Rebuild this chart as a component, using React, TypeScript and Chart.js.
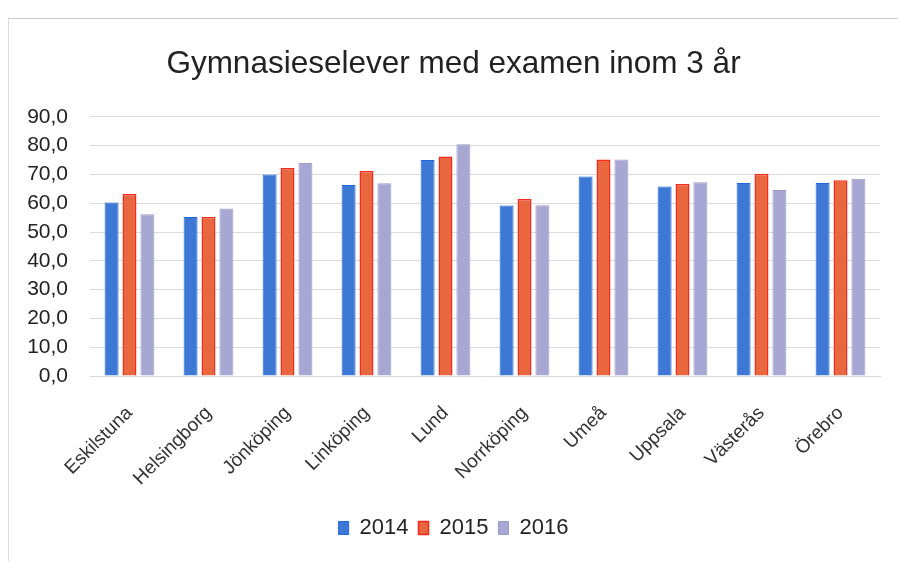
import React, { useEffect, useRef } from "react";
import { Chart, registerables } from "chart.js";

Chart.register(...registerables);

const categories = ["Eskilstuna", "Helsingborg", "Jönköping", "Linköping", "Lund", "Norrköping", "Umeå", "Uppsala", "Västerås", "Örebro"];
const values2014 = [60.2, 55.2, 70.0, 66.3, 75.0, 59.2, 69.3, 65.8, 67.0, 67.0];
const values2015 = [63.2, 55.2, 72.2, 71.2, 76.2, 61.5, 75.2, 66.7, 70.2, 68.0];
const values2016 = [56.2, 58.2, 74.0, 66.9, 80.5, 59.3, 75.2, 67.3, 64.6, 68.5];
const seriesLabels = ["2014", "2015", "2016"];
const titleText = "Gymnasieselever med examen inom 3 år";

export default function App() {
  const ref = useRef<HTMLCanvasElement>(null);
  useEffect(() => {
    const font = "'Liberation Sans', 'Open Sans', sans-serif";
    const chart = new Chart(ref.current!, {
      type: "bar",
      data: {
        labels: categories,
        datasets: [
          { label: seriesLabels[0], data: values2014, backgroundColor: "#3d78d4", borderColor: "#1f66e0", borderWidth: 1 },
          { label: seriesLabels[1], data: values2015, backgroundColor: "#e8673f", borderColor: "#f42a1e", borderWidth: 1.5 },
          { label: seriesLabels[2], data: values2016, backgroundColor: "#a8a6d2", borderColor: "#9c9ac8", borderWidth: 1 },
        ],
      },
      options: {
        animation: false,
        responsive: false,
        maintainAspectRatio: false,
        layout: { padding: { left: 19, right: 18, top: 27, bottom: 12 } },
        datasets: { bar: { categoryPercentage: 0.68, barPercentage: 0.78 } },
        plugins: {
          title: {
            display: true,
            text: titleText,
            font: { family: font, size: 31.5, weight: "normal" },
            color: "#222",
            padding: { top: 0, bottom: 34 },
          },
          legend: {
            position: "bottom",
            labels: {
              font: { family: font, size: 22 },
              color: "#222",
              boxWidth: 10,
              boxHeight: 13,
              padding: 10,
            },
          },
          tooltip: { enabled: false },
        },
        scales: {
          x: {
            grid: { display: false },
            border: { color: "#d8d8d8" },
            afterFit: (s: any) => { s.height = 131; s.paddingLeft = 0; s.paddingRight = 0; },
            ticks: {
              font: { family: font, size: 19 },
              color: "#333",
              minRotation: 45,
              maxRotation: 45,
              padding: 18,
            },
          },
          y: {
            min: 0,
            max: 90,
            afterFit: (s: any) => { s.width = 63; },
            grid: { color: "#dcdcdc", drawTicks: false },
            border: { display: false },
            ticks: {
              stepSize: 10,
              padding: 22,
              font: { family: font, size: 21 },
              color: "#222",
              callback: (v: any) => Number(v).toFixed(1).replace(".", ","),
            },
          },
        },
      },
    });
    return () => chart.destroy();
  }, []);
  return (
    <div style={{ position: "absolute", left: 0, top: 0, width: 898, height: 561, background: "#fff" }}>
      <div style={{ position: "absolute", left: 8, top: 18, width: 890, height: 543, borderTop: "1px solid #ccc", borderLeft: "1px solid #ddd" }} />
      <canvas ref={ref} width={890} height={543} style={{ position: "absolute", left: 8, top: 18 }} />
    </div>
  );
}
